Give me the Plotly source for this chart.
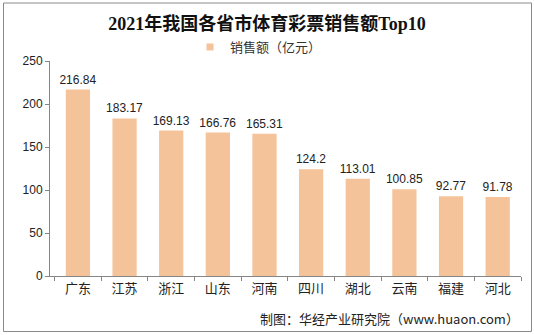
import plotly.graph_objects as go

categories = ["广东", "江苏", "浙江", "山东", "河南", "四川", "湖北", "云南", "福建", "河北"]
values = [216.84, 183.17, 169.13, 166.76, 165.31, 124.2, 113.01, 100.85, 92.77, 91.78]
labels = ["216.84", "183.17", "169.13", "166.76", "165.31", "124.2", "113.01", "100.85", "92.77", "91.78"]
y_ticks = [0, 50, 100, 150, 200, 250]
series_name = "销售额（亿元）"

W, H = 534, 335
L, R, T, B = 50, 13, 61, 59
pw, ph = W - L - R, H - T - B

def px(x):
    return (x - L) / pw

def py(y):
    return (H - B - y) / ph

bar_color = "#F4C39A"
axis_color = "#868686"
cjk = "Noto Sans CJK SC, Arial, sans-serif"

fig = go.Figure()
fig.add_trace(go.Bar(
    x=categories, y=values, name=series_name, showlegend=False,
    marker=dict(color=bar_color, line=dict(width=0)),
    text=labels, textposition="outside", cliponaxis=False, constraintext="none",
    textfont=dict(size=12, color="#222", family="Arial, Liberation Sans, sans-serif"),
))
# legend entry with a small square swatch
fig.add_trace(go.Scatter(
    x=[categories[0]], y=[None], mode="markers", name=series_name,
    marker=dict(symbol="square", size=7, color=bar_color),
))

fig.update_layout(
    width=W, height=H,
    margin=dict(l=L, r=R, t=T, b=B),
    paper_bgcolor="white", plot_bgcolor="white",
    bargap=0.48,
    title=dict(text="<b>2021年我国各省市体育彩票销售额Top10</b>", x=0.5, xanchor="center",
               y=1 - 24 / H, yanchor="middle",
               font=dict(size=18, color="#111", family="Times New Roman, Liberation Serif, Noto Sans CJK SC, serif")),
    showlegend=True,
    legend=dict(orientation="h", x=px(285.5 - 27), xanchor="center", y=py(47), yanchor="middle",
                font=dict(size=13, color="#333", family=cjk), bgcolor="rgba(0,0,0,0)",
                itemwidth=30),
    xaxis=dict(showline=True, linecolor=axis_color, linewidth=1, ticks="outside",
               tickson="boundaries", ticklen=4, tickcolor=axis_color,
               tickfont=dict(size=13, color="#222", family=cjk), showgrid=False),
    yaxis=dict(range=[0, 250], tickvals=y_ticks, showline=True, linecolor=axis_color, linewidth=1,
               ticks="outside", ticklen=4, tickcolor=axis_color, showgrid=False, zeroline=False,
               tickfont=dict(size=12, color="#222", family="Arial, Liberation Sans, sans-serif")),
)

fig.add_annotation(text="制图：华经产业研究院（www.huaon.com）", xref="paper", yref="paper",
                   x=px(521), y=py(318), xanchor="right", yanchor="middle", showarrow=False,
                   font=dict(size=13, color="#222", family=cjk))

fig.add_shape(type="rect", xref="paper", yref="paper",
              x0=px(3.5), x1=px(531.5), y0=py(331.5), y1=py(3),
              line=dict(color="#8a8a8a", width=1), fillcolor="rgba(0,0,0,0)", layer="below")

fig.write_html("out.html")
